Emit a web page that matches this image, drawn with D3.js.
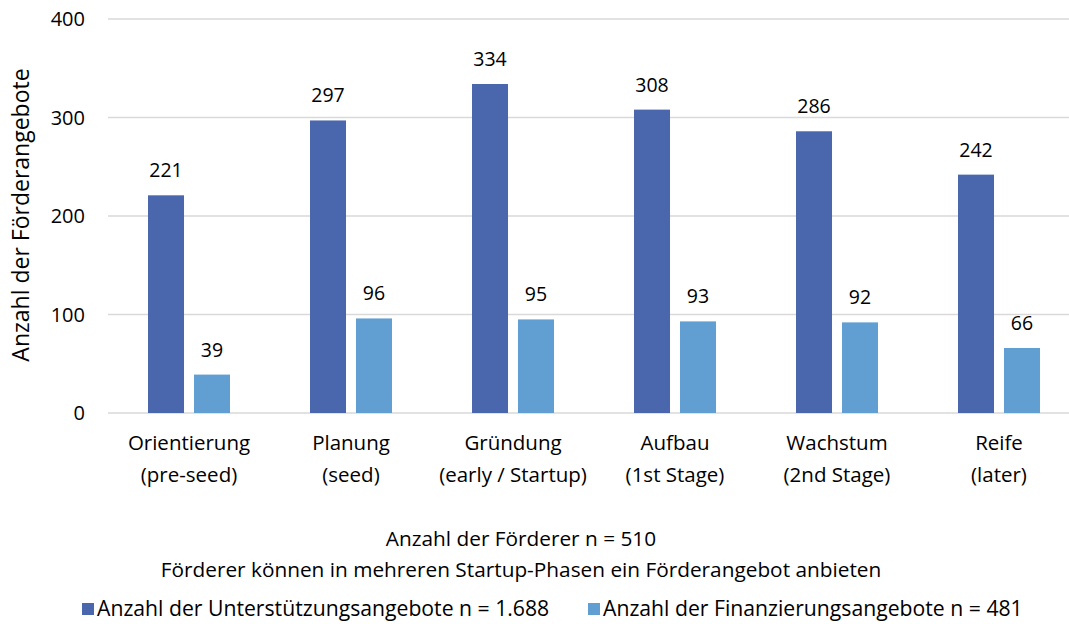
<!DOCTYPE html>
<html><head><meta charset="utf-8">
<script src="https://cdn.jsdelivr.net/npm/d3@7"></script>
<style>body{margin:0;background:#fff}svg{font-family:"Open Sans","Noto Sans",sans-serif}</style>
</head><body>
<svg id="c" width="1069" height="624"></svg>
<script>
const categories = [["Orientierung","(pre-seed)"],["Planung","(seed)"],["Gründung","(early / Startup)"],["Aufbau","(1st Stage)"],["Wachstum","(2nd Stage)"],["Reife","(later)"]];
const unterstuetzung = [221,297,334,308,286,242];
const finanzierung = [39,96,95,93,92,66];
const yTicks = [0,100,200,300,400];
const seriesNames = ["Anzahl der Unterstützungsangebote n = 1.688","Anzahl der Finanzierungsangebote n = 481"];
const colors = ["#4A67AD","#619FD3"];
const footer = ["Anzahl der Förderer n = 510","Förderer können in mehreren Startup-Phasen ein Förderangebot anbieten"];

const svg = d3.select("#c");
const pLeft=108,pRight=1080,pTop=19,pBottom=413;
const x = d3.scaleBand().domain(d3.range(categories.length)).range([pLeft,pRight]).paddingInner(0).paddingOuter(0);
const x1 = d3.scaleBand().domain([0,1]).range([0,x.bandwidth()]).paddingInner(0.217).paddingOuter(0.87);
const y = d3.scaleLinear().domain([0,400]).range([pBottom,pTop]);

const g = svg.append("g");
g.selectAll("line.grid").data(yTicks).join("line")
 .attr("x1",pLeft).attr("x2",1069).attr("y1",d=>y(d)).attr("y2",d=>y(d))
 .attr("stroke","#d9d9d9").attr("stroke-width",1.3);
g.selectAll("text.yt").data(yTicks).join("text")
 .attr("x",85).attr("y",d=>y(d)+7).attr("text-anchor","end")
 .attr("font-size",20).attr("fill","#000").text(d=>d);

svg.append("text").attr("transform",`translate(29,${215}) rotate(-90)`)
 .attr("text-anchor","middle").attr("font-size",23).text("Anzahl der Förderangebote");

const series=[unterstuetzung,finanzierung];
series.forEach((s,si)=>{
  g.selectAll("rect.s"+si).data(s).join("rect")
   .attr("x",(d,i)=>x(i)+x1(si)).attr("width",x1.bandwidth())
   .attr("y",d=>y(d)).attr("height",d=>y(0)-y(d)).attr("fill",colors[si]);
  g.selectAll("text.v"+si).data(s).join("text")
   .attr("x",(d,i)=>x(i)+x1(si)+x1.bandwidth()/2).attr("y",d=>y(d)-18)
   .attr("text-anchor","middle").attr("font-size",19.5).text(d=>d);
});

categories.forEach((c,i)=>{
  c.forEach((t,j)=>{
    svg.append("text").attr("x",x(i)+x.bandwidth()/2).attr("y",450+j*32)
     .attr("text-anchor","middle").attr("font-size",20.5).text(t);
  });
});

footer.forEach((t,j)=>{
  svg.append("text").attr("x",521).attr("y",546+j*31).attr("text-anchor","middle").attr("font-size",20.8).text(t);
});

const legX=[82,588];
seriesNames.forEach((n,i)=>{
  svg.append("rect").attr("x",legX[i]).attr("y",603).attr("width",12).attr("height",12).attr("fill",colors[i]);
  svg.append("text").attr("x",legX[i]+15).attr("y",616).attr("font-size",21.2).text(n);
});
</script>
</body></html>
